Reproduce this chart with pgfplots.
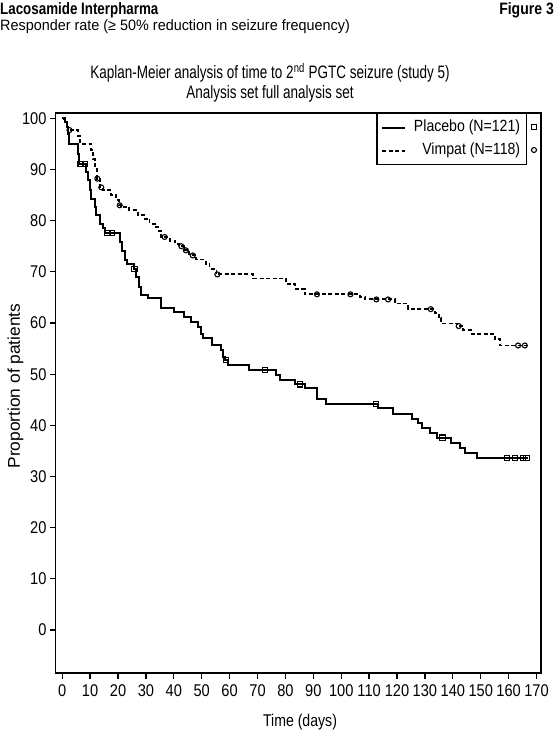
\documentclass[border=0pt]{standalone}
\usepackage{fontspec}
\setmainfont{Liberation Sans}
\newfontfamily\ftick{Liberation Sans}[FakeStretch=0.86]
\newfontfamily\fleg{Liberation Sans}[FakeStretch=0.87]
\newfontfamily\ftitle{Liberation Sans}[FakeStretch=0.75]
\newfontfamily\fxlab{Liberation Sans}[FakeStretch=0.83]
\newfontfamily\fylab{Liberation Sans}[FakeStretch=1.02]
\newfontfamily\fhb{Liberation Sans}[FakeStretch=0.81]
\newfontfamily\fhbb{Liberation Sans}[FakeStretch=0.85]
\newfontfamily\fhr{Liberation Sans}[FakeStretch=0.96]
\usepackage{pgfplots}
\pgfplotsset{compat=1.18}
\begin{document}
\begin{tikzpicture}[x=1bp,y=1bp]
\path[use as bounding box] (0,0) rectangle (556,732);
\node[anchor=base west, inner sep=0, font=\fhb\bfseries\fontsize{16.5bp}{18bp}\selectfont] at (0,717.7) {Lacosamide Interpharma};
\node[anchor=base east, inner sep=0, font=\fhbb\bfseries\fontsize{16.5bp}{18bp}\selectfont] at (554,717.7) {Figure 3};
\node[anchor=base west, inner sep=0, font=\fhr\fontsize{15bp}{17bp}\selectfont] at (0,701.3) {Responder rate (≥ 50\% reduction in seizure frequency)};
\node[anchor=base, inner sep=0, font=\ftitle\fontsize{18bp}{20bp}\selectfont] at (270,653.5) {Kaplan-Meier analysis of time to 2\textsuperscript{nd} PGTC seizure (study 5)};
\node[anchor=base, inner sep=0, font=\ftitle\fontsize{18bp}{20bp}\selectfont] at (270,633.7) {Analysis set full analysis set};
\begin{axis}[
  at={(55.5bp,58.7bp)}, anchor=south west,
  width=485.5bp, height=560bp, scale only axis,
  xmin=-2.4, xmax=171.6, ymin=-8.46, ymax=100.98,
  xtick={0,10,...,170}, ytick={0,10,...,100},
  xtick pos=bottom, ytick pos=left,
  tick align=outside, major tick length=5.5bp,
  tick style={line width=1.3bp, black},
  axis line style={line width=1.8bp},
  /pgf/number format/assume math mode=true,
  ticklabel style={font=\ftick\fontsize{17bp}{18bp}\selectfont},
  xticklabel style={yshift=-2bp},
  xlabel={Time (days)}, ylabel={Proportion of patients},
  xlabel style={font=\fxlab\fontsize{17bp}{18bp}\selectfont, at={(axis description cs:0.5036,-0.0875)}, anchor=center},
  ylabel style={font=\fylab\fontsize{17bp}{18bp}\selectfont, at={(axis description cs:-0.0824,0.513)}, anchor=center},
  legend style={at={(rel axis cs:0.9706,1)}, anchor=north east, draw=black, line width=1.2bp,
    font=\fleg\fontsize{16.2bp}{18bp}\selectfont, inner xsep=4bp, inner ysep=5bp, row sep=5.8bp,
    nodes={inner xsep=2bp, inner ysep=1.5bp, text height=11bp, text depth=3.5bp},
    cells={anchor=east},
    /tikz/every odd column/.append style={column sep=6bp}},
  legend image code/.code={\draw[#1, line width=1.9bp] (0bp,0bp) -- (23bp,0bp);},
]
\addplot[const plot, black, line width=2bp] coordinates {
(0,100) (1,99.2) (1.6,98.3) (2.2,97) (2.6,95) (5.6,93.1) (6.2,91.1) (8.6,89.5) (9.2,87.9) (9.8,85.9) (10.4,84.3) (11.6,82.7) (12.2,81.1) (13.4,79.4) (14.6,78.5) (15.5,77.6) (20.8,75.8) (21.5,74) (22.6,72.3) (23.2,71.6) (25.6,70.6) (26.5,69) (27.4,67) (28.4,65.4) (30.7,64.8) (35.5,63) (40,62.2) (43.5,61.2) (46,60.2) (48.6,59.2) (49.8,57.9) (50.6,57) (53.8,55.7) (57,54.7) (57.6,53.4) (58.2,52.7) (59.4,51.8) (66.9,50.8) (76.7,49.8) (78.2,48.8) (83.3,48) (86.9,47.2) (91.3,45.1) (94.4,44.1) (113.2,43.3) (118.6,42.3) (125.2,41.3) (127.6,40.4) (129.1,39.4) (131.7,38.5) (134.4,37.6) (139.5,36.6) (142.5,35.6) (144.3,34.6) (148.5,33.6) (167,33.6)
};
\addlegendentry{Placebo (N=121)}
\addplot[const plot, black, line width=1.9bp, dash pattern=on 4bp off 2.5bp] coordinates {
(0,100) (0.8,99.2) (1.6,98.3) (2.2,97.7) (5.8,96.6) (6.5,95) (10.4,93.8) (11.2,92) (11.8,90.4) (12.4,88.2) (13.6,86.5) (14.5,85.9) (17.6,85) (19.4,84) (20.2,83) (21,82.7) (24.1,82) (27.1,81.1) (29.5,80.4) (31.3,79.4) (33.1,78.8) (34.5,78) (35.5,76.8) (38.5,76.1) (40.5,75.5) (42,75) (43.5,74.2) (45.5,73.2) (48,72.4) (51.4,71.6) (52.8,70.6) (55.3,69.5) (68.4,68.7) (80.3,67.7) (83.3,66.7) (86.9,65.6) (106.6,65.1) (108.5,64.6) (119.2,63.8) (124,62.7) (133.5,61.9) (135,60.9) (135.9,59.9) (141.5,59.4) (143.7,58.6) (146.7,57.9) (155,56.8) (156.8,55.6) (166.5,55.6)
};
\addlegendentry{Vimpat (N=118)}
\addplot[only marks, mark=square, mark size=2.6bp, mark options={line width=1.1bp, black, solid}, forget plot] coordinates {
(6.6,91.1) (8.2,91.1) (16.2,77.6) (17.8,77.6) (25.9,70.6) (58.8,52.7) (72.6,50.8) (85.1,48) (112.4,44.1) (136.3,37.6) (159.3,33.6) (162.2,33.6) (165.2,33.6) (166.4,33.6)
};
\addplot[only marks, mark=o, mark size=2.5bp, mark options={line width=1.1bp, black, solid}, forget plot] coordinates {
(2.6,97.7) (12.6,88.2) (14,86.5) (20.6,83) (36.7,76.8) (42.7,75) (44.3,74.2) (46.8,73.2) (55.6,69.5) (91.3,65.6) (103.3,65.6) (112.6,64.6) (116.8,64.6) (132.1,62.7) (142.1,59.4) (163.4,55.6) (165.8,55.6)
};
\end{axis}
\node[draw, rectangle, minimum size=5.2bp, inner sep=0, line width=1.1bp] at (534,605.3) {};
\node[draw, circle, minimum size=5bp, inner sep=0, line width=1.1bp] at (534,582) {};
\end{tikzpicture}
\end{document}
